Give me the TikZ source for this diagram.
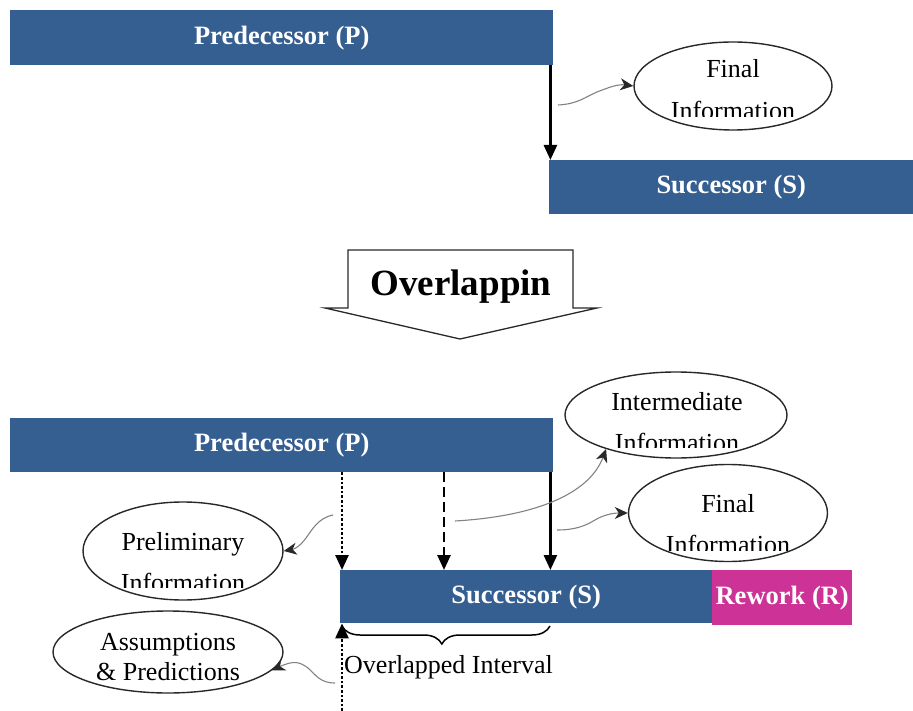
\documentclass[tikz,border=0pt]{standalone}
\usepackage{fontspec}
\setmainfont{Liberation Serif}
\usetikzlibrary{arrows.meta,shapes.geometric,decorations.pathreplacing}
\definecolor{barblue}{RGB}{53,94,145}
\definecolor{reworkpink}{RGB}{205,50,150}
\definecolor{outline}{RGB}{40,40,40}
\definecolor{wavegray}{RGB}{130,130,130}

\begin{document}
\begin{tikzpicture}[x=1pt,y=-1pt,
  bar/.style={rectangle, fill=barblue, draw=none, anchor=north west, inner sep=0pt,
    text=white, font=\bfseries\fontsize{26.5}{30}\selectfont},
  bubble/.style={ellipse, draw=outline, line width=1.4pt, fill=white, inner sep=0pt},
  label/.style={font=\fontsize{26}{30}\selectfont, anchor=base, inner sep=0pt, text=black},
  flow/.style={line width=2.6pt, -{Triangle[length=15pt,width=13pt]}},
  wave/.style={draw=wavegray, line width=1.1pt,
    -{Stealth[length=13pt,width=12pt,inset=4pt,color=outline]}},
]
\useasboundingbox (0,0) rectangle (913,711);

% ---------- sequential execution ----------
\node[bar, minimum width=543, minimum height=55] (p1) at (10,10) {Predecessor (P)};
\node[bar, minimum width=364, minimum height=54] (s1) at (549,160) {Successor (S)};

\node[bubble, minimum width=198, minimum height=88] (f1) at (733,86) {};
\begin{scope}
  \clip (620,40) rectangle (850,117);
  \node[label] (f1a) at (733,78) {Final};
  \node[label] (f1b) at (733,120) {Information};
\end{scope}

\draw[flow] ([xshift=-3pt]p1.south east) -- ([xshift=-3pt]p1.south east |- s1.north);
\coordinate (w1) at (558,105);
\draw[wave] (w1) .. controls (578,104) and (585,97) .. (597,92)
  .. controls (610,87) and (618,84) .. (f1.west);

% ---------- transition arrow ----------
\draw[outline, line width=1.3pt, fill=white]
  (348,250) -- (573,250) -- (573,308) -- (597,308) -- (460,339)
  -- (325,308) -- (348,308) -- cycle;
\node[font=\bfseries\fontsize{37}{40}\selectfont, inner sep=0pt] (ov) at (461,287) {Overlappin};

% ---------- overlapped execution ----------
\node[bar, minimum width=543, minimum height=54] (p2) at (10,418) {Predecessor (P)};
\node[bar, minimum width=372, minimum height=53] (s2) at (340,570) {Successor (S)};
\node[bar, fill=reworkpink, minimum width=140, minimum height=55] (r2) at (712,570) {Rework (R)};

% information bubbles
\node[bubble, minimum width=222, minimum height=86] (im) at (676,415) {};
\begin{scope}
  \clip (560,365) rectangle (790,447);
  \node[label] (ima) at (677,410) {Intermediate};
  \node[label] (imb) at (677,451) {Information};
\end{scope}

\node[bubble, minimum width=199, minimum height=97] (f2) at (728,513) {};
\begin{scope}
  \clip (620,460) rectangle (835,550);
  \node[label] (f2a) at (728,512) {Final};
  \node[label] (f2b) at (728,553) {Information};
\end{scope}

\node[bubble, minimum width=200, minimum height=98] (pre) at (183,551) {};
\begin{scope}
  \clip (75,498) rectangle (290,587);
  \node[label] (prea) at (183,550) {Preliminary};
  \node[label] (preb) at (183,591) {Information};
\end{scope}

\node[bubble, minimum width=230, minimum height=82] (as) at (168,652) {};
\node[label] (asa) at (168,650) {Assumptions};
\node[label] (asb) at (168,680) {\& Predictions};

% information flows from P to S
\coordinate (xa) at (342,0);
\coordinate (xb) at (444,0);
\coordinate (bot) at (342,711);
\draw[flow, dotted] (xa |- p2.south) -- (xa |- s2.north);
\draw[flow, dash pattern=on 10pt off 5pt] (xb |- p2.south) -- (xb |- s2.north);
\draw[flow] ([xshift=-3pt]p2.south east) -- ([xshift=-3pt]p2.south east |- s2.north);
\draw[flow, dotted] (bot) -- (xa |- s2.south);

% overlapped interval
\coordinate (b1) at (342,626);
\coordinate (b2) at (550,626);
\draw[decorate, decoration={brace, mirror, amplitude=18pt, aspect=0.48}, line width=1.5pt] (b1) -- (b2);
\node[label, anchor=base west] (ovl) at (344,673) {Overlapped Interval};

% wavy information links
\coordinate (w2) at (333,515);
\coordinate (w3) at (335,683);
\coordinate (w4) at (455,521);
\coordinate (w5) at (557,530);
\draw[wave] (w2) .. controls (318,518) and (312,530) .. (306,538)
  .. controls (300,546) and (295,549) .. (pre.east);
\draw[wave] (w3) .. controls (320,683) and (316,675) .. (308,668)
  .. controls (300,662) and (294,660) .. (as.-10);
\draw[wave] (w4) .. controls (540,516) and (590,492) .. (im.-154);
\draw[wave] (w5) .. controls (575,530) and (585,526) .. (595,520)
  .. controls (605,514) and (615,513) .. (f2.west);
\end{tikzpicture}
\end{document}
